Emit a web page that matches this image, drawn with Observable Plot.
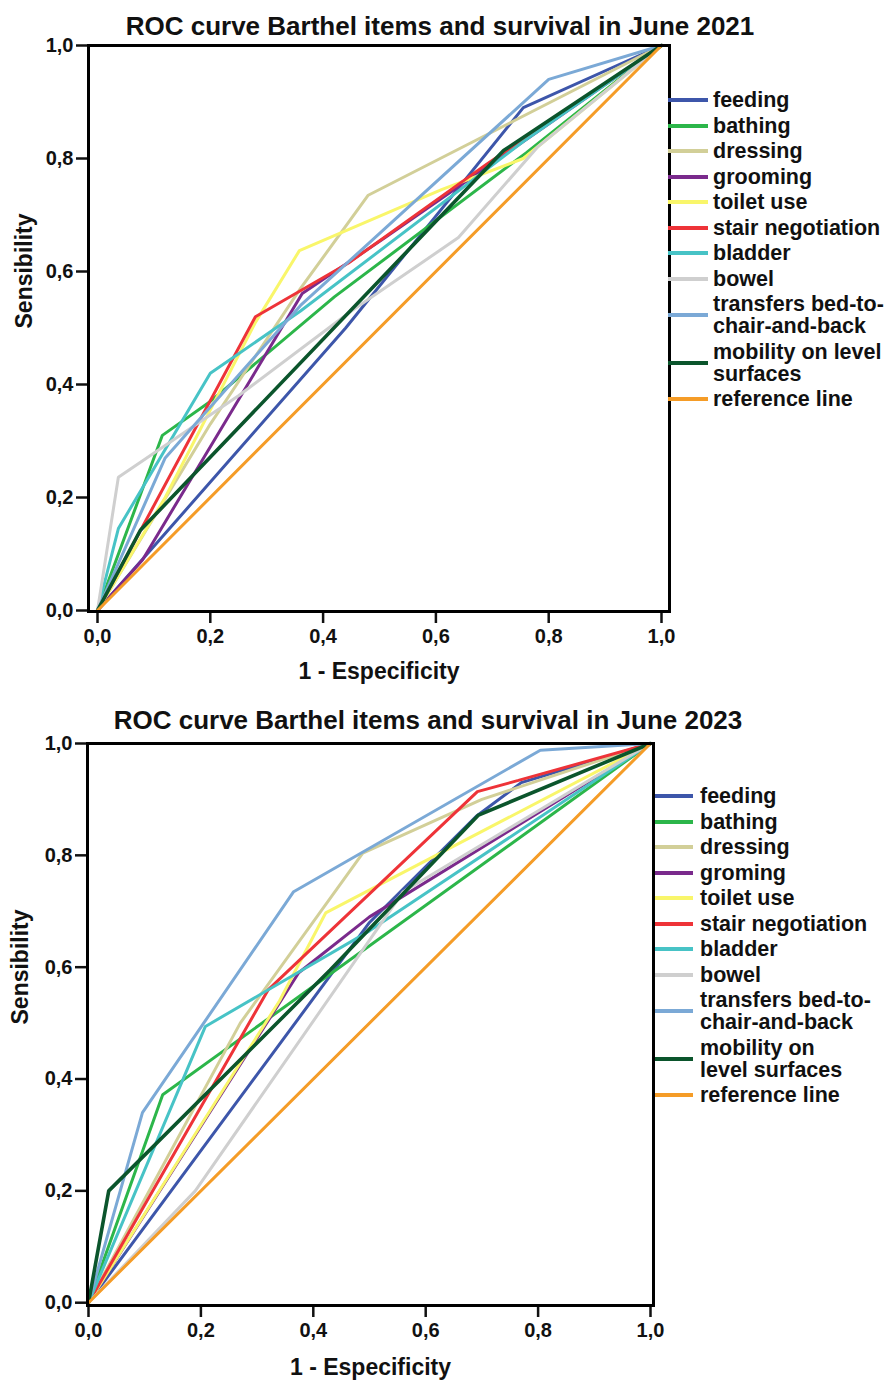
<!DOCTYPE html>
<html><head><meta charset="utf-8">
<script src="https://cdn.jsdelivr.net/npm/d3@7"></script>
<script src="https://cdn.jsdelivr.net/npm/@observablehq/plot@0.6"></script>
<style>
body{margin:0;background:#fff;}
#page{position:relative;width:891px;height:1380px;overflow:hidden;font-family:"Liberation Sans",Arial,sans-serif;color:#111;}
.title{position:absolute;width:800px;text-align:center;font-size:26px;font-weight:bold;line-height:26px;white-space:nowrap;}
.chart{position:absolute;left:0;}
.legend{position:absolute;font-size:21.5px;font-weight:bold;line-height:22px;}
.row{display:flex;align-items:center;margin-bottom:3.5px;white-space:nowrap;}
.sw{height:4px;flex:none;}
[aria-label="x-axis tick"],[aria-label="y-axis tick"]{stroke-width:2.5px;}
</style></head>
<body><div id="page"></div>
<script>
// ---------- data: [1 - specificity, sensitivity] vertices ----------
const titles = ["ROC curve Barthel items and survival in June 2021", "ROC curve Barthel items and survival in June 2023"];
const xLabel = "1 - Especificity";
const yLabel = "Sensibility";
const tickValues = [0, 0.2, 0.4, 0.6, 0.8, 1];

const labels2021 = ["feeding","bathing","dressing","grooming","toilet use","stair negotiation","bladder","bowel","transfers bed-to-\nchair-and-back","mobility on level\nsurfaces","reference line"];
const labels2023 = ["feeding","bathing","dressing","groming","toilet use","stair negotiation","bladder","bowel","transfers bed-to-\nchair-and-back","mobility on\nlevel surfaces","reference line"];

const feeding2021   = [[0,0],[0.44,0.50],[0.755,0.89],[1,1]];
const bathing2021   = [[0,0],[0.115,0.31],[0.2,0.37],[0.42,0.555],[0.76,0.81],[1,1]];
const dressing2021  = [[0,0],[0.2,0.33],[0.36,0.57],[0.48,0.735],[1,1]];
const grooming2021  = [[0,0],[0.08,0.09],[0.363,0.561],[0.51,0.66],[1,1]];
const toilet2021    = [[0,0],[0.12,0.2],[0.28,0.51],[0.358,0.637],[0.61,0.745],[0.755,0.80],[1,1]];
const stair2021     = [[0,0],[0.28,0.52],[0.445,0.615],[0.69,0.79],[1,1]];
const bladder2021   = [[0,0],[0.037,0.145],[0.2,0.42],[0.36,0.53],[0.755,0.83],[1,1]];
const bowel2021     = [[0,0],[0.037,0.236],[0.25,0.38],[0.45,0.53],[0.64,0.66],[0.78,0.82],[1,1]];
const transfers2021 = [[0,0],[0.12,0.27],[0.36,0.54],[0.8,0.94],[1,1]];
const mobility2021  = [[0,0],[0.076,0.142],[0.72,0.814],[1,1]];

const feeding2023   = [[0,0],[0.5,0.68],[0.69,0.87],[0.77,0.93],[1,1]];
const bathing2023   = [[0,0],[0.132,0.372],[1,1]];
const dressing2023  = [[0,0],[0.27,0.50],[0.488,0.804],[0.7,0.9],[1,1]];
const grooming2023  = [[0,0],[0.374,0.59],[0.5,0.69],[1,1]];
const toilet2023    = [[0,0],[0.34,0.54],[0.422,0.697],[1,1]];
const stair2023     = [[0,0],[0.32,0.56],[0.692,0.914],[0.765,0.934],[1,1]];
const bladder2023   = [[0,0],[0.208,0.494],[0.5,0.665],[1,1]];
const bowel2023     = [[0,0],[0.19,0.2],[0.56,0.735],[1,1]];
const transfers2023 = [[0,0],[0.096,0.34],[0.365,0.735],[0.804,0.988],[1,1]];
const mobility2023  = [[0,0],[0.036,0.2],[0.43,0.595],[0.694,0.872],[1,1]];

const referenceLine = [[0,0],[1,1]];

// ---------- styles ----------
const colors = ["#3d56aa","#2cb64a","#d2cf98","#7a2a8c","#f9f66a","#ee3338","#47c3c6","#cfcfcf","#7ba9d6","#0b552c","#f59c27"];
const widths = [3,3,3,3,3,3,3,3,3,3.6,3];

const series2021 = [feeding2021,bathing2021,dressing2021,grooming2021,toilet2021,stair2021,bladder2021,bowel2021,transfers2021,mobility2021,referenceLine];
const series2023 = [feeding2023,bathing2023,dressing2023,grooming2023,toilet2023,stair2023,bladder2023,bowel2023,transfers2023,mobility2023,referenceLine];

const fmt = d => d.toFixed(1).replace(".", ",");
const page = document.getElementById("page");

function makeChart(cfg) {
  const chart = Plot.plot({
    width: 891, height: cfg.height,
    marginLeft: cfg.frameLeft, marginRight: 891 - cfg.frameRight,
    marginTop: cfg.frameTop, marginBottom: cfg.height - cfg.frameBottom,
    x: {domain: cfg.xDomain, ticks: tickValues, tickFormat: fmt, tickSize: 12, tickPadding: 5, label: null},
    y: {domain: cfg.yDomain, ticks: tickValues, tickFormat: fmt, tickSize: 12, tickPadding: 3, label: null},
    style: {fontFamily: '"Liberation Sans", Arial, sans-serif', fontSize: "20px", fontWeight: "bold", background: "transparent", overflow: "visible", color: "#111"},
    marks: [
      ...cfg.series.map((pts, i) => Plot.line(pts, {x: d => d[0], y: d => d[1], stroke: colors[i], strokeWidth: widths[i], strokeLinejoin: "miter"})),
      Plot.frame({stroke: "#000", strokeWidth: 3}),
      Plot.text([xLabel], {frameAnchor: "bottom", dy: cfg.xLabelDy, fontSize: 23, fontWeight: "bold", fill: "#111"}),
      Plot.text([yLabel], {frameAnchor: "left", rotate: -90, dx: cfg.yLabelDx, fontSize: 23, fontWeight: "bold", fill: "#111"})
    ]
  });
  chart.classList.add("chart");
  chart.style.top = cfg.top + "px";
  page.appendChild(chart);

  const t = document.createElement("div");
  t.className = "title";
  t.textContent = cfg.title;
  t.style.left = (cfg.titleCx - 400) + "px";
  t.style.top = cfg.titleTop + "px";
  page.appendChild(t);

  const lg = document.createElement("div");
  lg.className = "legend";
  lg.style.left = cfg.legendLeft + "px";
  lg.style.top = cfg.legendTop + "px";
  cfg.labels.forEach((lab, i) => {
    const row = document.createElement("div");
    row.className = "row";
    const sw = document.createElement("div");
    sw.className = "sw";
    sw.style.background = colors[i];
    sw.style.width = cfg.swatchW + "px";
    sw.style.marginRight = cfg.swatchGap + "px";
    const tx = document.createElement("div");
    tx.innerHTML = lab.split("\n").join("<br>");
    row.appendChild(sw); row.appendChild(tx);
    lg.appendChild(row);
  });
  page.appendChild(lg);
}

makeChart({
  title: titles[0], titleCx: 440, titleTop: 13,
  top: 0, height: 690,
  frameLeft: 88, frameRight: 669, frameTop: 45, frameBottom: 611,
  xDomain: [-9/564, 1 + 8/564], yDomain: [-1/565, 1],
  xLabelDy: 67, yLabelDx: -64,
  series: series2021, labels: labels2021,
  legendLeft: 668, legendTop: 89, swatchW: 40, swatchGap: 5
});

makeChart({
  title: titles[1], titleCx: 428, titleTop: 707,
  top: 700, height: 680,
  frameLeft: 87, frameRight: 653, frameTop: 43, frameBottom: 605,
  xDomain: [-1/562, 1 + 3/562], yDomain: [-0.005, 1],
  xLabelDy: 69, yLabelDx: -67,
  series: series2023, labels: labels2023,
  legendLeft: 655, legendTop: 785, swatchW: 38, swatchGap: 7
});
</script>
</body></html>
